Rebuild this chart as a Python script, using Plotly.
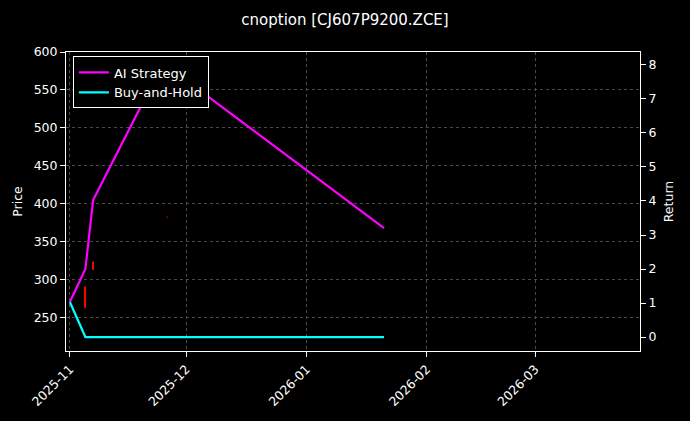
import plotly.graph_objects as go

# candles (price axis)
candle_dates = ["2025-11-05", "2025-11-07", "2025-11-26"]
candle_low = [263, 313, 381]
candle_high = [291, 324, 384]
candle_colors = ["red", "red", "#5a0000"]

# return lines (right axis)
ai_dates = ["2025-11-01", "2025-11-05", "2025-11-07", "2025-11-25", "2026-01-21"]
ai_return = [1.03, 2.0, 4.03, 8.06, 3.2]
bh_dates = ["2025-11-01", "2025-11-05", "2026-01-21"]
bh_return = [1.03, 0.0, 0.0]

fig = go.Figure()

fig.add_trace(go.Bar(x=candle_dates, base=candle_low,
                     y=[h - l for h, l in zip(candle_high, candle_low)],
                     width=0.35 * 86400000, marker=dict(color=candle_colors, line=dict(width=0)),
                     showlegend=False, yaxis="y"))

fig.add_trace(go.Scatter(x=ai_dates, y=ai_return, mode="lines", name="AI Strategy",
                         line=dict(color="#ff00ff", width=2.2), yaxis="y2"))
fig.add_trace(go.Scatter(x=bh_dates, y=bh_return, mode="lines", name="Buy-and-Hold",
                         line=dict(color="#00ffff", width=2.2), yaxis="y2"))

grid = dict(showgrid=True, gridcolor="#4a4a4a", griddash="dot", gridwidth=0.6)
fig.update_layout(
    width=690, height=421,
    paper_bgcolor="black", plot_bgcolor="black",
    font=dict(family="DejaVu Sans", color="white", size=12.5),
    title=dict(text="cnoption [CJ607P9200.ZCE]", x=0.5, xanchor="center", y=0.965,
               font=dict(size=15)),
    margin=dict(l=66, r=50, t=52, b=70),
    showlegend=True,
    legend=dict(x=0.012, y=0.985, xanchor="left", yanchor="top", bgcolor="black",
                bordercolor="white", borderwidth=1, font=dict(size=13)),
    xaxis=dict(type="date", range=["2025-10-31", "2026-03-28"],
               tickvals=["2025-11-01", "2025-12-01", "2026-01-01", "2026-02-01", "2026-03-01"],
               ticktext=["2025-11", "2025-12", "2026-01", "2026-02", "2026-03"],
               tickangle=-45, showline=True, linecolor="white", mirror=True,
               ticks="outside", tickcolor="white", zeroline=False, **grid),
    yaxis=dict(title=dict(text="Price", standoff=8, font=dict(size=12.5)), range=[206, 600],
               tickvals=[250, 300, 350, 400, 450, 500, 550, 600],
               showline=True, linecolor="white", ticks="outside", tickcolor="white",
               zeroline=False, **grid),
    yaxis2=dict(title=dict(text="Return", standoff=8, font=dict(size=12.5)), overlaying="y",
                side="right", range=[-0.41, 8.38],
                tickvals=list(range(0, 9)), showline=True, linecolor="white",
                ticks="outside", tickcolor="white", showgrid=False, zeroline=False),
)

fig.write_html("out.html", config={"displayModeBar": False},
               post_script="document.body.style.margin='0';document.body.style.background='black';")
